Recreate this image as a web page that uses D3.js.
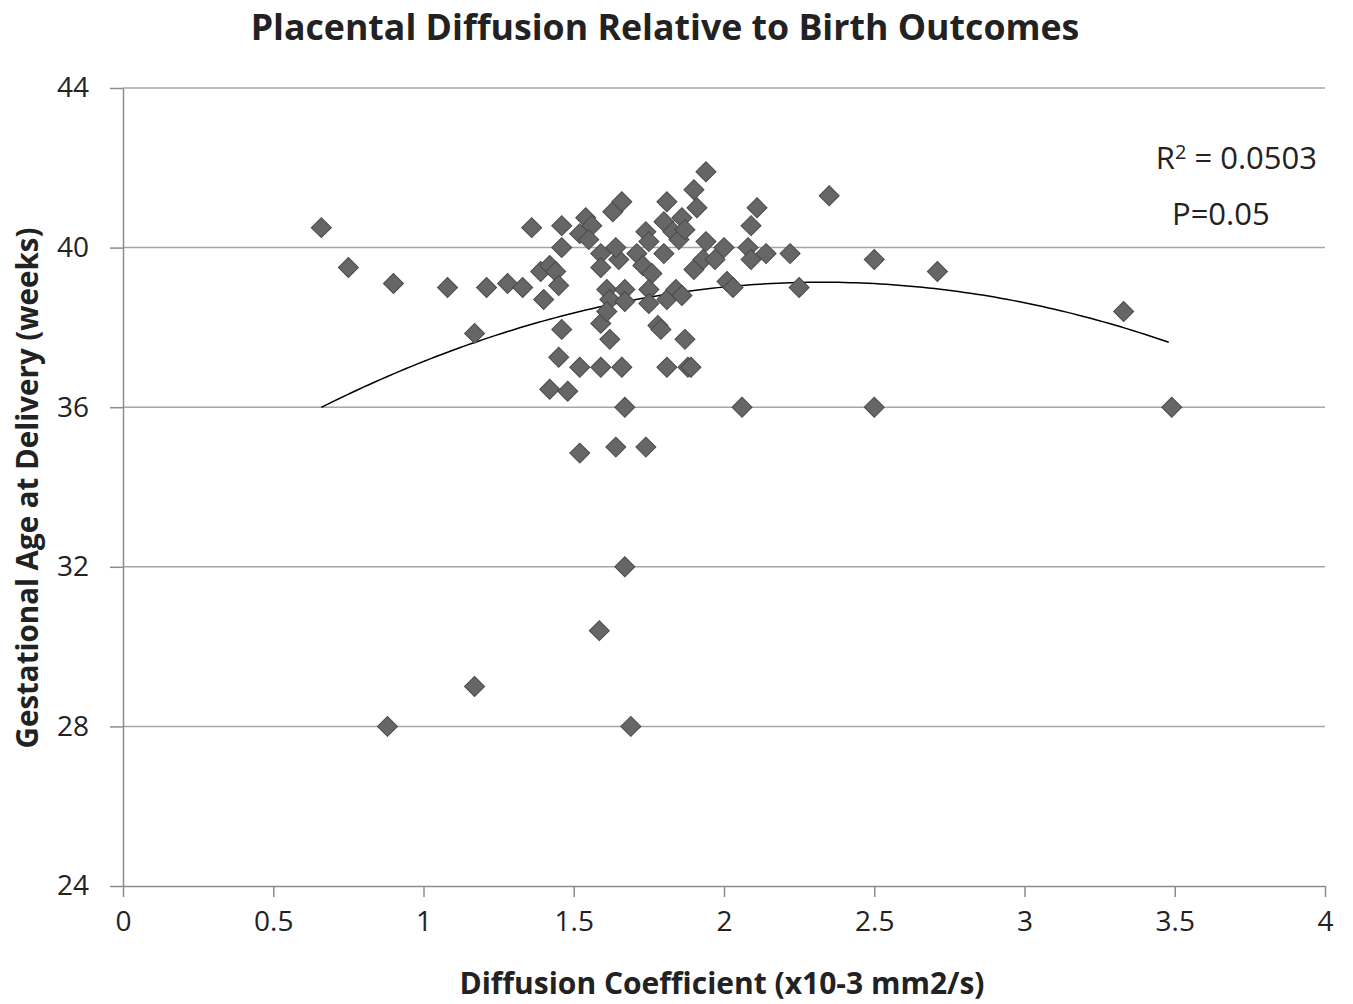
<!DOCTYPE html>
<html>
<head>
<meta charset="utf-8">
<script src="https://cdn.jsdelivr.net/npm/d3@7"></script>
<style>
  body { margin: 0; background: #fff; }
  text { font-family: "Open Sans", Lato, sans-serif; fill: #222; }
</style>
</head>
<body>
<div id="chart"></div>
<script>
// diffusion coefficient (x10-3 mm2/s)
var diffusion = [
  0.66, 0.75, 0.90, 0.88, 1.08, 1.17, 1.17, 1.21, 1.28, 1.33,
  1.36, 1.39, 1.40, 1.42, 1.42, 1.44, 1.45, 1.46, 1.46, 1.46,
  1.45, 1.48, 1.52, 1.52, 1.54, 1.56, 1.52, 1.55, 1.59, 1.65,
  1.59, 1.59, 1.585, 1.59, 1.61, 1.62, 1.62, 1.63, 1.64, 1.64,
  1.66, 1.66, 1.67, 1.67, 1.69, 1.67, 1.67, 1.74, 1.75, 1.71,
  1.73, 1.76, 1.80, 1.74, 1.75, 1.75, 1.78, 1.79, 1.81, 1.80,
  1.83, 1.81, 1.81, 1.84, 1.85, 1.86, 1.87, 1.86, 1.87, 1.88,
  1.89, 1.90, 1.90, 1.91, 1.94, 1.94, 1.93, 1.97, 2.00, 2.01,
  2.03, 2.06, 2.08, 2.09, 2.09, 2.11, 2.14, 2.22, 2.25, 2.35,
  2.50, 2.50, 2.71, 3.33, 3.49, 1.61
];
// gestational age at delivery (weeks)
var gestAge = [
  40.5, 39.5, 39.1, 28.0, 39.0, 37.85, 29.0, 39.0, 39.1, 39.0,
  40.5, 39.4, 38.7, 39.55, 36.45, 39.4, 39.05, 40.55, 40.0, 37.95,
  37.25, 36.4, 37.0, 34.85, 40.75, 40.55, 40.35, 40.2, 39.85, 39.7,
  39.5, 37.0, 30.4, 38.1, 38.95, 38.7, 37.7, 40.9, 40.0, 35.0,
  41.15, 37.0, 36.0, 32.0, 28.0, 38.95, 38.65, 40.4, 40.15, 39.85,
  39.55, 39.35, 39.85, 35.0, 38.95, 38.6, 38.05, 37.95, 41.15, 40.65,
  40.4, 37.0, 38.7, 38.95, 40.2, 40.75, 40.45, 38.8, 37.7, 37.0,
  37.0, 41.45, 39.45, 41.0, 41.9, 40.15, 39.7, 39.7, 40.0, 39.15,
  39.0, 36.0, 40.0, 40.55, 39.7, 41.0, 39.85, 39.85, 39.0, 41.3,
  39.7, 36.0, 39.4, 38.4, 36.0, 38.4
];
var xTicks = [0, 0.5, 1, 1.5, 2, 2.5, 3, 3.5, 4];
var yTicks = [24, 28, 32, 36, 40, 44];
// polynomial trendline (order 2)
var trendCoef = [33.02, 5.256, -1.130];
var trendRange = [0.66, 3.49];

var width = 1353, height = 1004;
var margin = { top: 88, right: 28, bottom: 118, left: 123 };

var svg = d3.select('#chart').append('svg')
  .attr('width', width)
  .attr('height', height);

var x = d3.scaleLinear().domain([0, 4]).range([margin.left, width - margin.right]);
var y = d3.scaleLinear().domain([24, 44]).range([height - margin.bottom, margin.top]);

// gridlines
svg.append('g').selectAll('line')
  .data(yTicks.filter(function (d) { return d > 24; }))
  .enter().append('line')
  .attr('x1', x(0)).attr('x2', x(4))
  .attr('y1', function (d) { return y(d); })
  .attr('y2', function (d) { return y(d); })
  .attr('stroke', '#a6a6a6').attr('stroke-width', 1.5);

// axes
var xAxis = svg.append('g')
  .attr('transform', 'translate(0,' + y(24) + ')')
  .call(d3.axisBottom(x).tickValues(xTicks).tickFormat(d3.format('~g'))
    .tickSize(11).tickSizeOuter(0).tickPadding(14));
var yAxis = svg.append('g')
  .attr('transform', 'translate(' + x(0) + ',0)')
  .call(d3.axisLeft(y).tickValues(yTicks).tickSize(13).tickSizeOuter(0).tickPadding(21));

[xAxis, yAxis].forEach(function (ax) {
  ax.select('.domain').attr('stroke', '#8c8c8c').attr('stroke-width', 1.5);
  ax.selectAll('.tick line').attr('stroke', '#8c8c8c').attr('stroke-width', 1.5);
  ax.selectAll('.tick text')
    .style('font-family', '"Open Sans", Lato, sans-serif')
    .style('font-size', '28px')
    .attr('fill', '#222');
});

// trendline
var trendX = d3.range(trendRange[0], trendRange[1] + 0.001, 0.02);
var line = d3.line()
  .x(function (d) { return x(d); })
  .y(function (d) { return y(trendCoef[0] + trendCoef[1] * d + trendCoef[2] * d * d); });
svg.append('path')
  .datum(trendX)
  .attr('d', line)
  .attr('fill', 'none')
  .attr('stroke', '#000')
  .attr('stroke-width', 1.5);

// points
var diamond = d3.symbol().type(d3.symbolSquare).size(200);
svg.append('g').selectAll('path')
  .data(d3.range(diffusion.length))
  .enter().append('path')
  .attr('d', diamond)
  .attr('transform', function (i) {
    return 'translate(' + x(diffusion[i]) + ',' + y(gestAge[i]) + ') rotate(45)';
  })
  .attr('fill', '#666666')
  .attr('stroke', '#4a4a4a')
  .attr('stroke-width', 1);

// title
svg.append('text')
  .attr('x', 665).attr('y', 40)
  .attr('text-anchor', 'middle')
  .style('font-size', '35.7px')
  .style('font-weight', 'bold')
  .text('Placental Diffusion Relative to Birth Outcomes');

// axis titles
svg.append('text')
  .attr('x', 722).attr('y', 994)
  .attr('text-anchor', 'middle')
  .style('font-size', '30px')
  .style('font-weight', 'bold')
  .text('Diffusion Coefficient (x10-3 mm2/s)');

svg.append('text')
  .attr('transform', 'translate(38,' + 488 + ') rotate(-90)')
  .attr('text-anchor', 'middle')
  .style('font-size', '29.5px')
  .style('font-weight', 'bold')
  .text('Gestational Age at Delivery (weeks)');

// annotation
var ann = svg.append('text')
  .attr('x', 1317).attr('y', 169)
  .attr('text-anchor', 'end')
  .style('font-size', '31px');
ann.append('tspan').text('R');
ann.append('tspan').attr('dy', -10).style('font-size', '20px').text('2');
ann.append('tspan').attr('dy', 10).text(' = 0.0503');

svg.append('text')
  .attr('x', 1172).attr('y', 225)
  .style('font-size', '31px')
  .text('P=0.05');
</script>
</body>
</html>
